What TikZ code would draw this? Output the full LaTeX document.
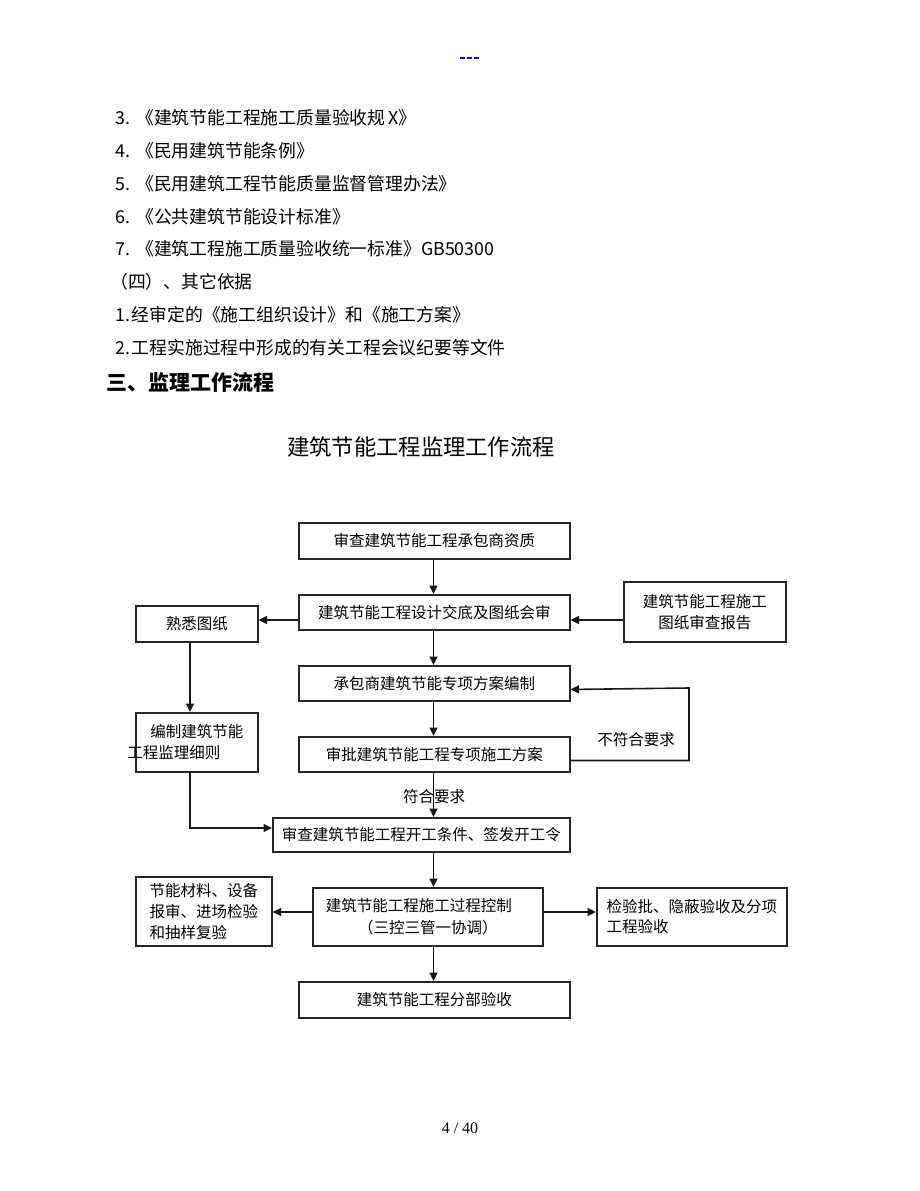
\documentclass[tikz,border=0pt]{standalone}
\usepackage{fontspec}
\setmainfont{Noto Sans CJK SC}
\newfontfamily\serifnum{Liberation Serif}
\usetikzlibrary{arrows.meta,calc}
\newcommand{\fsz}[2]{\fontsize{#1}{#2}\selectfont}
\begin{document}
\begin{tikzpicture}[x=1pt,y=-1pt,
  box/.style={draw=black!85, line width=1.5pt, inner sep=0pt, anchor=north west, align=center, font=\fsz{15.5}{21}},
  arr/.style={-{Triangle[length=8.5pt,width=8pt]}, line width=1.6pt, draw=black!90},
  para/.style={anchor=west, inner sep=0pt, font=\fsz{17.8}{20}},
  lbl/.style={inner sep=0pt, font=\fsz{15.5}{20}}]
\useasboundingbox (0,0) rectangle (920,1191);
\fill[white] (0,0) rectangle (920,1191);
% header mark
\coordinate (h1) at (460,58); \coordinate (h2) at (479,58);
\draw[blue, line width=1.3pt, dash pattern=on 4.5pt off 2.5pt] (h1) -- (h2);
% text lines
\node[para] (t3) at (115,118) {3.\hspace{0.35em}《建筑节能工程施工质量验收规\,X》};
\node[para] (t4) at (115,151) {4.\hspace{0.35em}《民用建筑节能条例》};
\node[para] (t5) at (115,184) {5.\hspace{0.35em}《民用建筑工程节能质量监督管理办法》};
\node[para] (t6) at (115,217) {6.\hspace{0.35em}《公共建筑节能设计标准》};
\node[para] (t7) at (115,249) {7.\hspace{0.35em}《建筑工程施工质量验收统一标准》GB50300};
\node[para] (t8) at (110,282) {（四）、其它依据};
\node[para] (t9) at (115,315) {1.\hspace{0.1em}经审定的《施工组织设计》和《施工方案》};
\node[para] (t10) at (115,348) {2.\hspace{0.1em}工程实施过程中形成的有关工程会议纪要等文件};
\node[para, font=\fsz{21}{24}\bfseries] (t11) at (106,382) {三、监理工作流程};
\node[inner sep=0pt, font=\fsz{22.3}{26}] (title) at (421,447) {建筑节能工程监理工作流程};
% boxes
\node[box, minimum width=271pt, minimum height=36pt] (A) at (298,522) {审查建筑节能工程承包商资质};
\node[box, minimum width=271pt, minimum height=35pt] (B) at (298,594) {建筑节能工程设计交底及图纸会审};
\node[box, minimum width=162pt, minimum height=60pt] (R1) at (623,581) {建筑节能工程施工\\图纸审查报告};
\node[box, minimum width=122pt, minimum height=36pt] (S) at (135,605) {熟悉图纸};
\node[box, minimum width=271pt, minimum height=35pt] (C) at (298,665) {承包商建筑节能专项方案编制};
\node[box, minimum width=271pt, minimum height=35pt] (D) at (298,736) {审批建筑节能工程专项施工方案};
\node[box, minimum width=122pt, minimum height=59pt] (Z) at (135,712) {编制建筑节能\\\hspace*{-46pt}工程监理细则};
\node[box, minimum width=297pt, minimum height=34pt] (E) at (272,817) {审查建筑节能工程开工条件、签发开工令};
\node[box, minimum width=230pt, minimum height=58pt, font=\fsz{15.5}{22}] (F) at (312,887) {建筑节能工程施工过程控制\hspace*{18pt}\\（三控三管一协调）};
\node[box, minimum width=136pt, minimum height=69pt, align=left] (L) at (135,876) {节能材料、设备\\报审、进场检验\\和抽样复验};
\node[box, minimum width=190pt, minimum height=58pt, align=left, font=\fsz{15.5}{20}] (R2) at (596,887) {检验批、隐蔽验收及分项\\工程验收};
\node[box, minimum width=271pt, minimum height=36pt] (G) at (298,981) {建筑节能工程分部验收};
% labels
\node[lbl] (no) at (636,740) {不符合要求};
\node[lbl] (yes) at (434,797) {符合要求};
% connectors
\coordinate (mx) at (433.5,0);
\draw[arr] (A.south -| mx) -- (B.north -| mx);
\draw[arr] (B.west |- 0,620) -- (S.east |- 0,620);
\draw[arr] (R1.west |- 0,620) -- (B.east |- 0,620);
\draw[arr] (B.south -| mx) -- (C.north -| mx);
\draw[arr] (C.south -| mx) -- (D.north -| mx);
\coordinate (loopx) at (689,0);
\draw[arr] ($(D.north east)!0.67!(D.south east)$) -| (loopx |- 0,688) -- ($(C.north east)!0.67!(C.south east)$);
\draw[arr] (D.south -| mx) -- (E.north -| mx);
\coordinate (lx) at (190,0);
\draw[arr] (S.south -| lx) -- (Z.north -| lx);
\draw[arr] (Z.south -| lx) |- (E.west |- 0,828);
\draw[arr] (E.south -| mx) -- (F.north -| mx);
\draw[arr] (F.west |- 0,912) -- (L.east |- 0,912);
\draw[arr] (F.east |- 0,912) -- (R2.west |- 0,912);
\draw[arr] (F.south -| mx) -- (G.north -| mx);
% page number
\node[inner sep=0pt, font=\serifnum\fsz{16}{18}] (pg) at (460,1128) {4 / 40};
\end{tikzpicture}
\end{document}
